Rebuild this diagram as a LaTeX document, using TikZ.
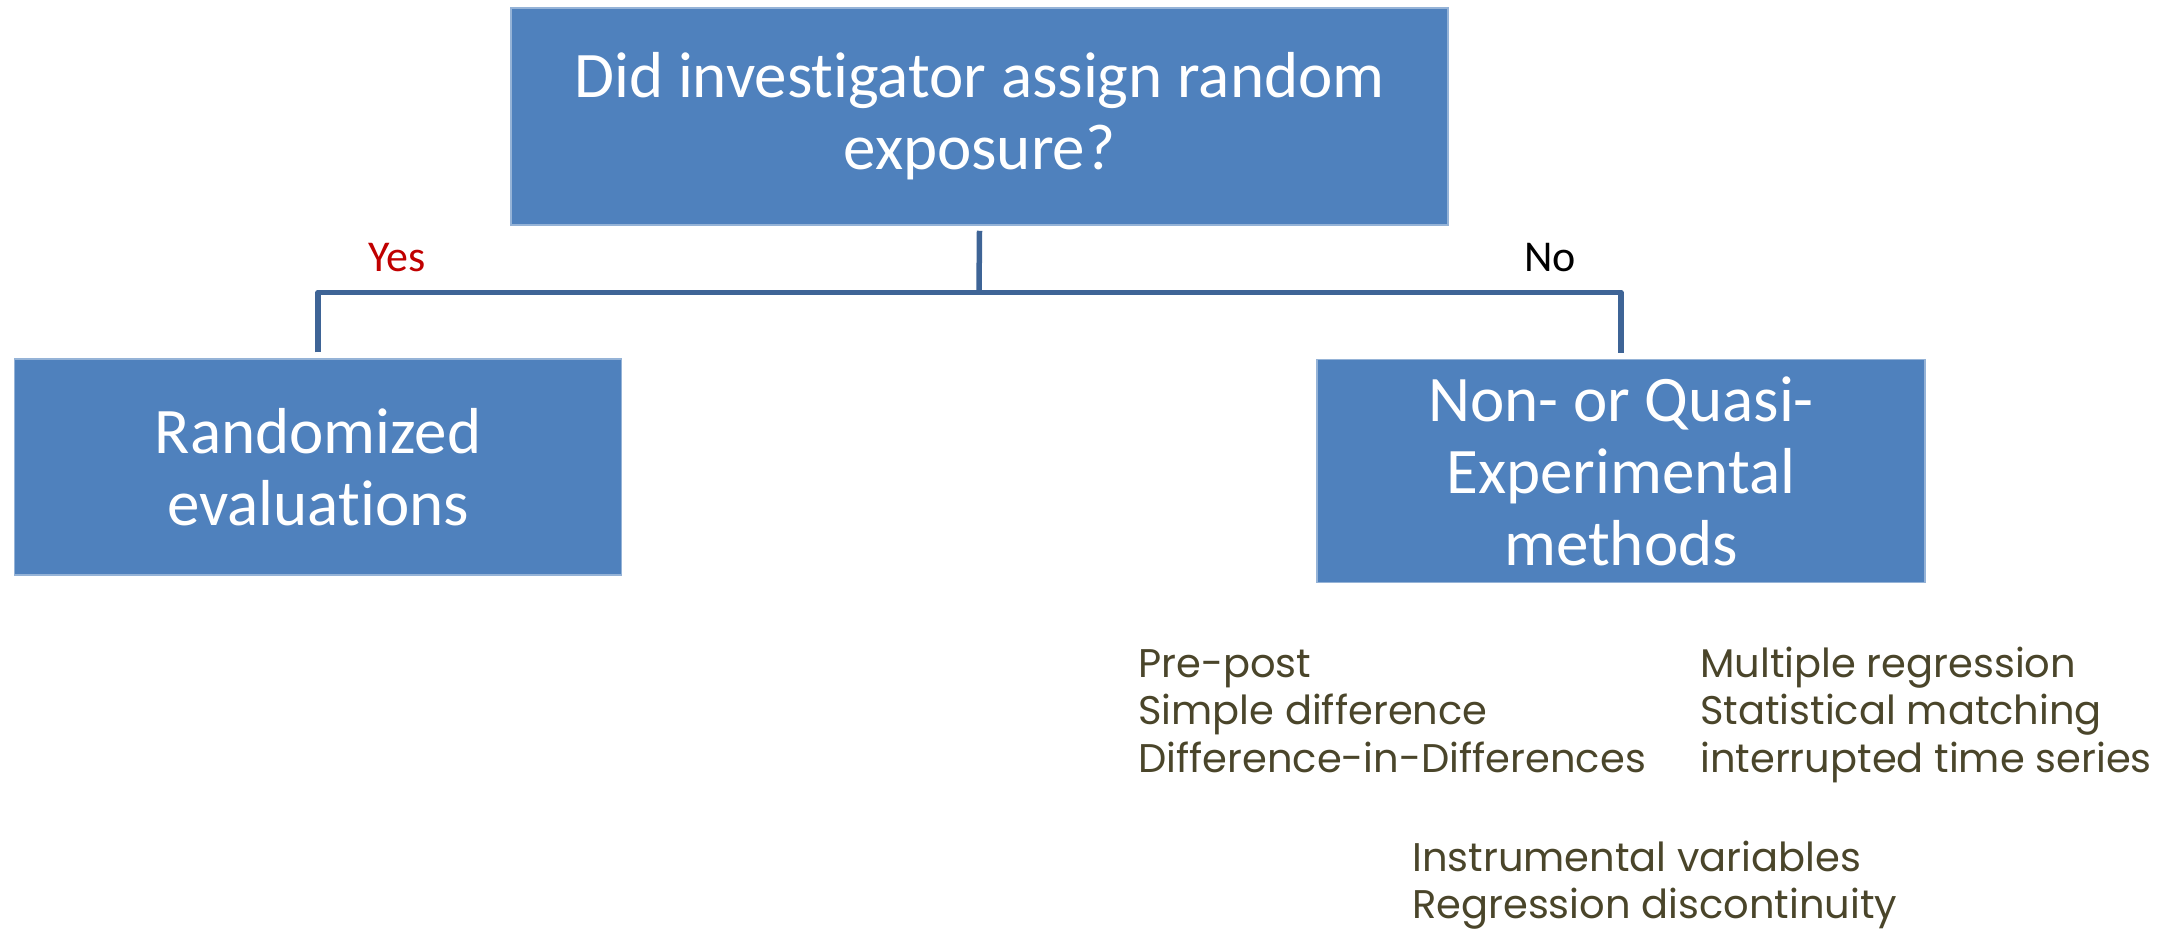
\documentclass[tikz,border=0pt]{standalone}
\usepackage{fontspec}
\setmainfont[Ligatures={NoCommon,NoRequired,NoContextual},Contextuals=NoAlternate]{Carlito}
\newfontfamily\methodfont{Poppins}
% keep "t" and "i" as separate glyphs
\newcommand{\splitti}{t\kern0pt i}
\definecolor{boxblue}{RGB}{79,129,189}
\definecolor{boxedge}{RGB}{149,179,215}
\definecolor{linkblue}{RGB}{62,100,150}
\definecolor{yesred}{RGB}{192,0,0}
\definecolor{methodtext}{RGB}{74,69,42}
\tikzset{
  decision/.style={rectangle, fill=boxblue, draw=boxedge, line width=1.5pt,
    inner sep=0pt, text=white, align=center,
    font=\fontsize{65}{72}\selectfont},
  link/.style={draw=linkblue, line width=5.5pt, line join=round},
  answer/.style={anchor=base, inner sep=0pt, font=\fontsize{44}{48}\selectfont},
  method/.style={anchor=base west, inner sep=0pt, text=methodtext,
    font=\methodfont\fontsize{40}{47}\selectfont}
}
\begin{document}
\begin{tikzpicture}[x=1pt,y=-1pt]
\useasboundingbox (0,0) rectangle (2177,930);

% decision boxes
\node[decision, minimum width=937pt, minimum height=217pt] (question) at (979.5,116.5)
  {Did inves\splitti gator assign random\\exposure?};
\node[decision, minimum width=607pt, minimum height=216pt] (randomized) at (318,467)
  {Randomized\\evalua\splitti ons};
\node[decision, minimum width=608pt, minimum height=223pt] (quasi) at (1621,471)
  {Non- or Quasi-\\Experimental\\methods};

% branching connector
\coordinate (split) at (979,292.5);
\draw[link] ([yshift=-5pt]question.south) -- (split);
\draw[link] ([yshift=6pt]randomized.north) -- (randomized.north |- split)
  -- (quasi.north |- split) -- ([yshift=6pt]quasi.north);

% branch answers
\node[answer, text=yesred] (yes) at (397,271.5) {Yes};
\node[answer, text=black] (no) at (1550,271.5) {No};

% methods listed under the quasi-experimental branch
\node[method] (m1) at (1138,677) {Pre-post};
\node[method] (m2) at (1138,724.5) {Simple difference};
\node[method] (m3) at (1138,772) {Difference-in-Differences};
\node[method] (m4) at (1700,677) {Multiple regression};
\node[method] (m5) at (1700,724.5) {Statistical matching};
\node[method] (m6) at (1700,772) {interrupted time series};
\node[method] (m7) at (1412,871) {Instrumental variables};
\node[method] (m8) at (1412,918) {Regression discontinuity};
\end{tikzpicture}
\end{document}
